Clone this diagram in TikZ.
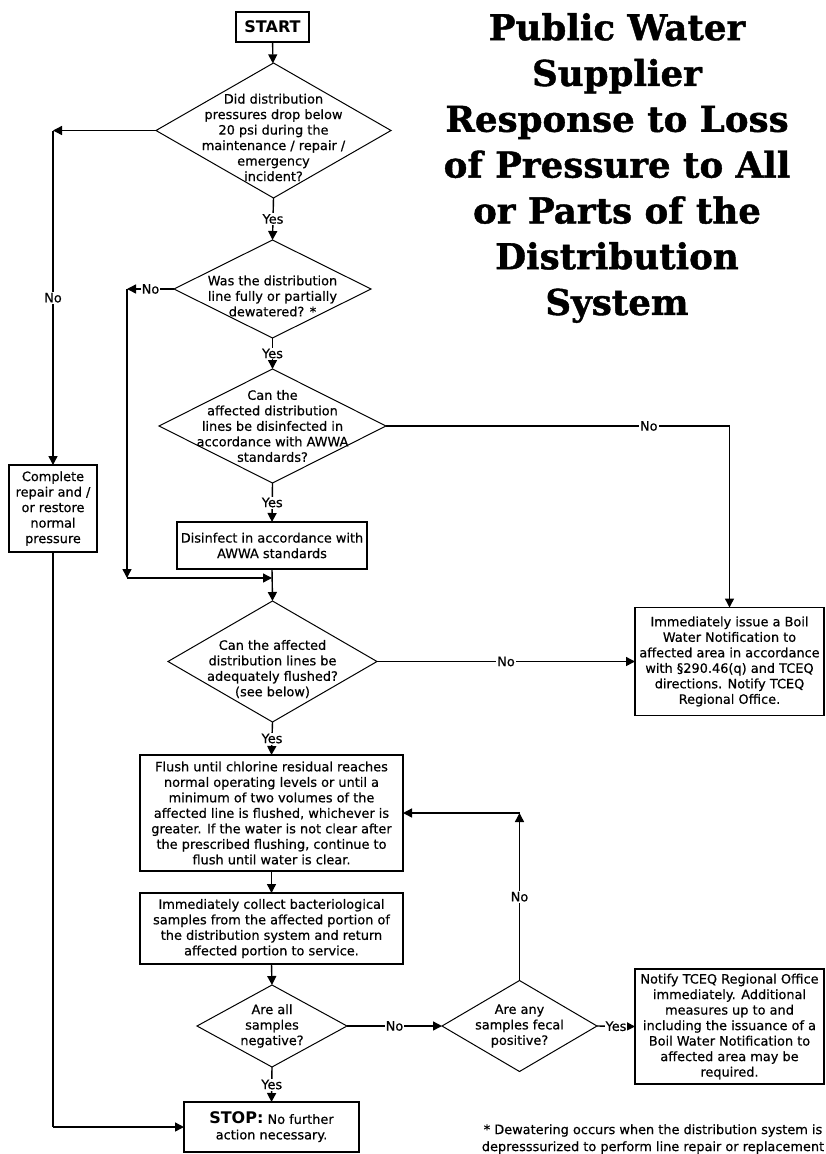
\documentclass[tikz,border=0pt]{standalone}
\usepackage{fontspec}
\setmainfont{DejaVu Sans}[UprightFeatures={FakeBold=0.5}]
\newfontfamily\titlefont{DejaVu Serif}[BoldFeatures={FakeBold=1.2}]
\usetikzlibrary{arrows.meta,shapes.geometric}
\newcommand\mytxtsize{\fontsize{12.9}{15.5}\selectfont}
\tikzset{
  txt/.style={font=\mytxtsize, align=center, inner sep=0pt},
  box/.style={draw, rectangle, line width=1.4pt, inner sep=0pt, outer sep=0pt, align=center, font=\mytxtsize},
  dia/.style={draw, diamond, line width=1.0pt, inner sep=0pt, outer sep=0pt},
  lbl/.style={fill=white, inner sep=1.2pt, font=\mytxtsize},
  arr/.style={line width=1.4pt, -{Triangle[length=9pt,width=9pt]}},
  ln/.style={line width=1.4pt}
}
\begin{document}
\begin{tikzpicture}[x=1pt,y=-1pt]
\useasboundingbox (0,0) rectangle (825,1154);
\fill[white] (0,0) rectangle (825,1154);

% title
\node[font=\titlefont\bfseries\fontsize{35.6}{45.8}\selectfont, align=center, inner sep=0pt] (title) at (617,168)
 {Public Water\\Supplier\\Response to Loss\\of Pressure to All\\or Parts of the\\Distribution\\System};

% boxes
\node[box, minimum width=73pt, minimum height=30pt, font=\bfseries\fontsize{16}{16}\selectfont] (start) at (272.5,27) {START};
\node[box, minimum width=88pt, minimum height=87pt] (comp) at (53,508.5) {Complete\\repair and /\\or restore\\normal\\pressure};
\node[box, minimum width=190pt, minimum height=47pt] (dis) at (272,545.5) {Disinfect in accordance with\\AWWA standards};
\node[box, minimum width=189pt, minimum height=108pt] (boil) at (729.5,661.5) {Immediately issue a Boil\\Water Notification to\\affected area in accordance\\with §290.46(q) and TCEQ\\directions. Notify TCEQ\\Regional Office.};
\node[box, minimum width=263pt, minimum height=116pt] (flush) at (271.5,813) {Flush until chlorine residual reaches\\normal operating levels or until a\\minimum of two volumes of the\\affected line is flushed, whichever is\\greater. If the water is not clear after\\the prescribed flushing, continue to\\flush until water is clear.};
\node[box, minimum width=263pt, minimum height=71pt] (coll) at (271.5,928.5) {Immediately collect bacteriological\\samples from the affected portion of\\the distribution system and return\\affected portion to service.};
\node[box, minimum width=175pt, minimum height=50pt] (stop) at (271.5,1127) {{\bfseries\fontsize{16}{16}\selectfont STOP:} No further\\action necessary.};
\node[box, minimum width=189pt, minimum height=115pt] (notify) at (729.5,1026.5) {Notify TCEQ Regional Office\\immediately. Additional\\measures up to and\\including the issuance of a\\Boil Water Notification to\\affected area may be\\required.};

% diamonds
\node[dia, minimum width=235pt, minimum height=135pt] (d1) at (273.5,130.5) {};
\node[txt] (t1) at ([yshift=-7pt]d1.center) {Did distribution\\pressures drop below\\20 psi during the\\maintenance / repair /\\emergency\\incident?};
\node[dia, minimum width=197pt, minimum height=98pt] (d2) at (272.5,289) {};
\node[txt] (t2) at ([yshift=-7pt]d2.center) {Was the distribution\\line fully or partially\\dewatered? *};
\node[dia, minimum width=227pt, minimum height=114pt] (d3) at (272.5,426) {};
\node[txt] (t3) at (d3.center) {Can the\\affected distribution\\lines be disinfected in\\accordance with AWWA\\standards?};
\node[dia, minimum width=209pt, minimum height=121pt] (d4) at (272.5,661.5) {};
\node[txt] (t4) at ([yshift=-7.5pt]d4.center) {Can the affected\\distribution lines be\\adequately flushed?\\(see below)};
\node[dia, minimum width=150pt, minimum height=82pt] (d5) at (272,1026) {};
\node[txt] (t5) at (d5.center) {Are all\\samples\\negative?};
\node[dia, minimum width=155pt, minimum height=91pt] (d6) at (519.5,1026) {};
\node[txt] (t6) at (d6.center) {Are any\\samples fecal\\positive?};

% footnote
\node[txt, font=\fontsize{12.9}{17}\selectfont] (foot) at (653,1139) {* Dewatering occurs when the distribution system is\\depresssurized to perform line repair or replacement};

% helper coordinates
\coordinate (c1) at (53,130.5);
\coordinate (c2) at (127,289);
\coordinate (c3) at (127,578);
\coordinate (c4) at (272,578);
\coordinate (c5) at (boil.north |- d3.east);
\coordinate (c6) at (519.5,813);
\coordinate (c7) at (53,1127);

% connectors
\draw[arr] (start) -- (d1);
\draw[arr] (d1.south) -- node[lbl]{Yes} (d2.north);
\draw[arr] (d2.south) -- node[lbl]{Yes} (d3.north);
\draw[arr] (d3.south) -- node[lbl]{Yes} (dis.north);
\draw[arr] (dis.south) -- (d4.north);
\draw[arr] (d4.south) -- node[lbl]{Yes} (flush.north);
\draw[arr] (flush.south) -- (coll.north);
\draw[arr] (coll.south) -- (d5.north);
\draw[arr] (d5.south) -- node[lbl]{Yes} (stop.north);

\draw[arr] (d1.west) -- (c1);
\draw[arr] (c1) -- node[lbl]{No} (comp.north);
\draw[ln] (comp.south) -- (c7);
\draw[arr] (c7) -- (stop.west);

\draw[arr] (d2.west) -- node[lbl]{No} (c2);
\draw[arr] (c2) -- (c3);
\draw[arr] (c3) -- (c4);

\draw[ln] (d3.east) -- node[lbl, pos=0.765]{No} (c5);
\draw[arr] (c5) -- (boil.north);

\draw[arr] (d4.east) -- node[lbl]{No} (boil.west);

\draw[arr] (d5.east) -- node[lbl]{No} (d6.west);
\draw[arr] (d6.north) -- node[lbl]{No} (c6);
\draw[arr] (c6) -- (flush.east);
\draw[arr] (d6.east) -- node[lbl, inner sep=0.5pt]{Yes} (notify.west);
\end{tikzpicture}
\end{document}
